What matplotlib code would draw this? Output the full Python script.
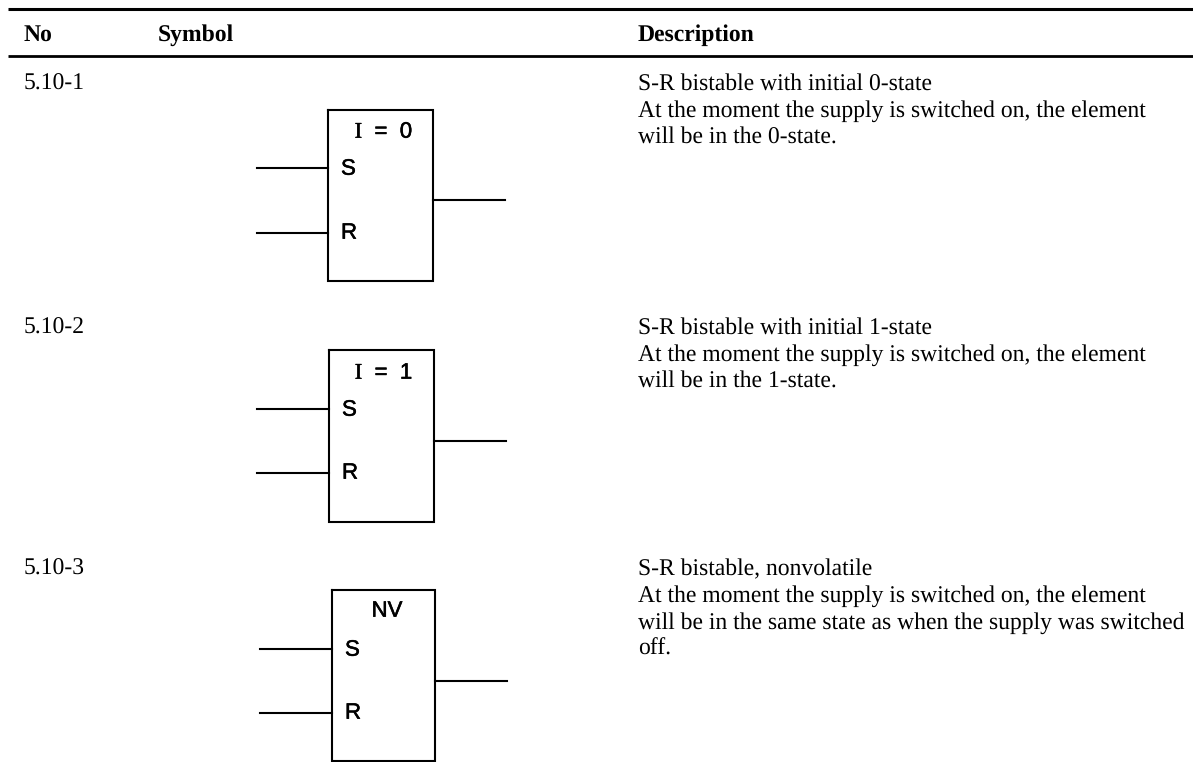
import matplotlib
matplotlib.use("Agg")
import matplotlib.pyplot as plt
import matplotlib.patheffects as pe

W = 1193
H = 762

headers = ["No", "Symbol", "Description"]
header_x = [24, 158, 638]
numbers = ["5.10-1", "5.10-2", "5.10-3"]
row_y = [90, 334, 575]
labels = ["$\\mathrm{I}$  =  0", "$\\mathrm{I}$  =  1", "NV"]
descriptions = [
    ["S-R bistable with initial 0-state",
     "At the moment the supply is switched on, the element",
     "will be in the 0-state."],
    ["S-R bistable with initial 1-state",
     "At the moment the supply is switched on, the element",
     "will be in the 1-state."],
    ["S-R bistable, nonvolatile",
     "At the moment the supply is switched on, the element",
     "will be in the same state as when the supply was switched",
     "off."],
]

# symbol boxes, in image pixels
box_l = [328, 329, 332]
box_r = [433, 434, 435]
box_t = [110, 350, 590]
box_b = [281, 522, 761]
in_x = [257, 257, 260]
s_y = [168, 409, 649]
r_y = [233, 473, 713]
out_y = [200, 441, 681]
out_x = [505, 506, 507]
label_x = [384, 384, 387]
label_y = [132, 373, 611]

plt.rcParams["font.family"] = ["Liberation Serif", "DejaVu Serif"]
plt.rcParams["mathtext.fontset"] = "custom"
plt.rcParams["mathtext.rm"] = "Liberation Serif"
plt.rcParams["text.hinting"] = "no_hinting"

fig = plt.figure(figsize=(W / 100, H / 100), dpi=100)
ax = fig.add_axes([0, 0, 1, 1])
ax.set_xlim(0, W)
ax.set_ylim(H, 0)
ax.axis("off")

ax.plot([8, W], [9, 9], color="black", lw=2.2, solid_capstyle="butt")
ax.plot([8, W], [56, 56], color="black", lw=2.0, solid_capstyle="butt")
for x, t in zip(header_x, headers):
    ax.text(x, 41, t, fontsize=17, fontweight="bold", va="baseline")

for y, t in zip(row_y, numbers):
    ax.text(24, y, t, fontsize=17, va="baseline")

for y, lines in zip(row_y, descriptions):
    for j, line in enumerate(lines):
        ax.text(638, y + j * 26.7, line, fontsize=17, va="baseline")

heavy = [pe.withStroke(linewidth=0.4, foreground="black")]
for i in range(3):
    ax.plot([box_l[i], box_r[i], box_r[i], box_l[i], box_l[i]],
            [box_t[i], box_t[i], box_b[i], box_b[i], box_t[i]],
            color="black", lw=1.5, solid_joinstyle="miter")
    ax.plot([in_x[i], box_l[i]], [s_y[i], s_y[i]], color="black", lw=1.5)
    ax.plot([in_x[i], box_l[i]], [r_y[i], r_y[i]], color="black", lw=1.5)
    ax.plot([box_r[i], out_x[i]], [out_y[i], out_y[i]], color="black", lw=1.5)
    ax.text(box_l[i] + 13, s_y[i] + 1, "S", family="Liberation Sans", fontsize=16,
            va="center", path_effects=heavy)
    ax.text(box_l[i] + 13, r_y[i], "R", family="Liberation Sans", fontsize=16,
            va="center", path_effects=heavy)
    ax.text(label_x[i], label_y[i], labels[i], family="Liberation Sans", fontsize=16,
            ha="center", va="center", path_effects=heavy)

fig.savefig("out.png", dpi=100)
